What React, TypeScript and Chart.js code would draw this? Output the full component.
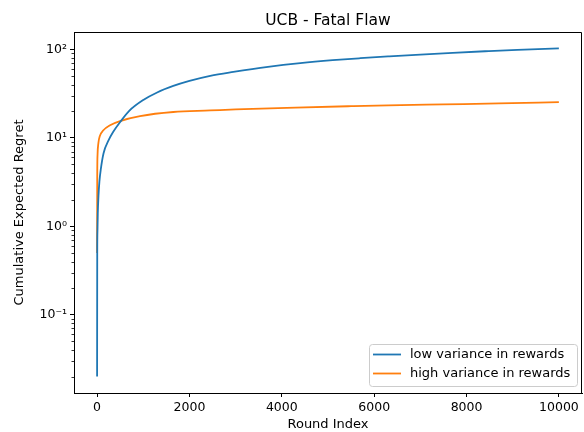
import React, { useEffect, useRef } from "react";
import { Chart, registerables } from "chart.js";

Chart.register(...registerables);

// ---- data ----
const roundLow = [0, 3, 8, 15, 30, 50, 80, 140, 250, 350, 500, 700, 1000, 1300, 1650, 2000, 2450, 2950, 3700, 4400, 5100, 5700, 6300, 7000, 7700, 8400, 9100, 9999];
const regretLow = [0.02, 0.5, 0.9, 1.4, 2.2, 3.2, 4.4, 6.7, 9.4, 11.7, 15.1, 20.3, 26.8, 32.6, 38.6, 44.0, 50.2, 55.6, 63.5, 70.0, 75.5, 79.5, 83.2, 87.5, 91.5, 95.3, 98.9, 102.5];
const roundHigh = [0, 3, 10, 28, 60, 136, 280, 500, 930, 1650, 2450, 3000, 4300, 5500, 6300, 7500, 8700, 9999];
const regretHigh = [0.5, 3.5, 6.5, 8.7, 10.5, 12.2, 13.9, 15.5, 17.6, 19.6, 20.4, 21, 22, 22.8, 23.3, 23.9, 24.5, 25.3];

const seriesLabels = ["low variance in rewards", "high variance in rewards"];
const seriesColors = ["#1f77b4", "#ff7f0e"];
const xTicks = [0, 2000, 4000, 6000, 8000, 10000];
const yTicks = [0.1, 1, 10, 100];
const yTickLabels = ["10\u207B\u00B9", "10\u2070", "10\u00B9", "10\u00B2"];
const chartTitle = "UCB - Fatal Flaw";
const xTitle = "Round Index";
const yTitle = "Cumulative Expected Regret";

const FONT = "'DejaVu Sans', sans-serif";
const FS = 12.5;
const FL = 13;

const decorPlugin = {
  id: "decor",
  afterDraw(chart: any) {
    const { ctx, chartArea } = chart;
    const { left, right, top, bottom } = chartArea;
    const ys = chart.scales.y;
    ctx.save();
    // frame (top/right spines)
    ctx.strokeStyle = "#000";
    ctx.lineWidth = 1;
    ctx.beginPath();
    ctx.moveTo(Math.round(left) + 0.5, Math.round(top) + 0.5);
    ctx.lineTo(Math.round(right) - 0.5, Math.round(top) + 0.5);
    ctx.lineTo(Math.round(right) - 0.5, Math.round(bottom) + 0.5);
    ctx.stroke();
    // minor ticks on log axis
    ctx.lineWidth = 0.8;
    for (let e = -3; e <= 3; e++) {
      for (let k = 2; k <= 9; k++) {
        const v = k * Math.pow(10, e);
        if (v <= ys.min || v >= ys.max) continue;
        const y = Math.round(ys.getPixelForValue(v)) + 0.5;
        ctx.beginPath();
        ctx.moveTo(left - 2.5, y);
        ctx.lineTo(left, y);
        ctx.stroke();
      }
    }
    // title
    ctx.fillStyle = "#000";
    ctx.font = `15.5px ${FONT}`;
    ctx.textAlign = "center";
    ctx.textBaseline = "alphabetic";
    ctx.fillText(chartTitle, (left + right) / 2, 25);
    // legend
    const bx = 369.5, by = 344.5, bw = 208, bh = 42, r = 3;
    ctx.beginPath();
    ctx.moveTo(bx + r, by);
    ctx.lineTo(bx + bw - r, by);
    ctx.arcTo(bx + bw, by, bx + bw, by + r, r);
    ctx.lineTo(bx + bw, by + bh - r);
    ctx.arcTo(bx + bw, by + bh, bx + bw - r, by + bh, r);
    ctx.lineTo(bx + r, by + bh);
    ctx.arcTo(bx, by + bh, bx, by + bh - r, r);
    ctx.lineTo(bx, by + r);
    ctx.arcTo(bx, by, bx + r, by, r);
    ctx.closePath();
    ctx.fillStyle = "rgba(255,255,255,0.8)";
    ctx.fill();
    ctx.strokeStyle = "#cccccc";
    ctx.lineWidth = 1;
    ctx.stroke();
    ctx.font = `${FL}px ${FONT}`;
    ctx.textAlign = "left";
    ctx.textBaseline = "middle";
    chart.data.datasets.forEach((ds: any, i: number) => {
      const yy = 354.5 + i * 19;
      ctx.strokeStyle = ds.borderColor;
      ctx.lineWidth = 1.8;
      ctx.beginPath();
      ctx.moveTo(373, yy);
      ctx.lineTo(401, yy);
      ctx.stroke();
      ctx.fillStyle = "#000";
      ctx.fillText(ds.label, 410, yy);
    });
    ctx.restore();
  },
};

export default function App() {
  const ref = useRef<HTMLCanvasElement | null>(null);
  useEffect(() => {
    if (!ref.current) return;
    Chart.defaults.color = "#000";
    const mk = (xs: number[], ys: number[]) => xs.map((x, i) => ({ x, y: ys[i] }));
    const chart = new Chart(ref.current, {
      type: "line",
      data: {
        datasets: [
          {
            label: seriesLabels[0],
            data: mk(roundLow, regretLow),
            borderColor: seriesColors[0],
            backgroundColor: seriesColors[0],
            borderWidth: 1.8,
            pointRadius: 0,
            cubicInterpolationMode: "monotone",
          },
          {
            label: seriesLabels[1],
            data: mk(roundHigh, regretHigh),
            borderColor: seriesColors[1],
            backgroundColor: seriesColors[1],
            borderWidth: 1.8,
            pointRadius: 0,
            cubicInterpolationMode: "monotone",
          },
        ],
      },
      options: {
        animation: false,
        responsive: false,
        devicePixelRatio: 1,
        layout: { padding: { top: 32, right: 2, bottom: 0, left: 0 } },
        plugins: {
          legend: { display: false },
          title: { display: false },
          tooltip: { enabled: false },
        },
        scales: {
          x: {
            type: "linear",
            min: -500,
            max: 10500,
            afterBuildTicks: (s: any) => {
              s.ticks = xTicks.map((v) => ({ value: v }));
            },
            afterFit: (s: any) => {
              s.height = 39;
            },
            ticks: {
              font: { family: FONT, size: FS, lineHeight: 1.2 },
              color: "#000",
              padding: 3,
              maxRotation: 0,
              callback: (v: any) => String(v),
            },
            grid: { drawOnChartArea: false, drawTicks: true, tickLength: 4, tickColor: "#000", tickWidth: 1 },
            border: { display: true, color: "#000", width: 1 },
            title: {
              display: true,
              text: xTitle,
              color: "#000",
              font: { family: FONT, size: FL, lineHeight: 1.2 },
              padding: { top: 0, bottom: 0 },
            },
          },
          y: {
            type: "logarithmic",
            min: 0.01305,
            max: 157.3,
            afterBuildTicks: (s: any) => {
              s.ticks = yTicks.map((v) => ({ value: v }));
            },
            afterFit: (s: any) => {
              s.width = 74;
            },
            ticks: {
              font: { family: FONT, size: FS, lineHeight: 1.2 },
              color: "#000",
              padding: 3,
              callback: (v: any) => {
                const i = yTicks.indexOf(Number(v));
                return i >= 0 ? yTickLabels[i] : "";
              },
            },
            grid: { drawOnChartArea: false, drawTicks: true, tickLength: 4, tickColor: "#000", tickWidth: 1 },
            border: { display: true, color: "#000", width: 1 },
            title: {
              display: true,
              text: yTitle,
              color: "#000",
              font: { family: FONT, size: FL, lineHeight: 1.2 },
              padding: { top: 12, bottom: 0 },
            },
          },
        },
      },
      plugins: [decorPlugin],
    } as any);
    return () => chart.destroy();
  }, []);
  return (
    <div style={{ position: "fixed", left: 0, top: 0, width: 584, height: 432, background: "#fff" }}>
      <canvas ref={ref} width={584} height={432} style={{ display: "block", width: 584, height: 432 }} />
    </div>
  );
}
